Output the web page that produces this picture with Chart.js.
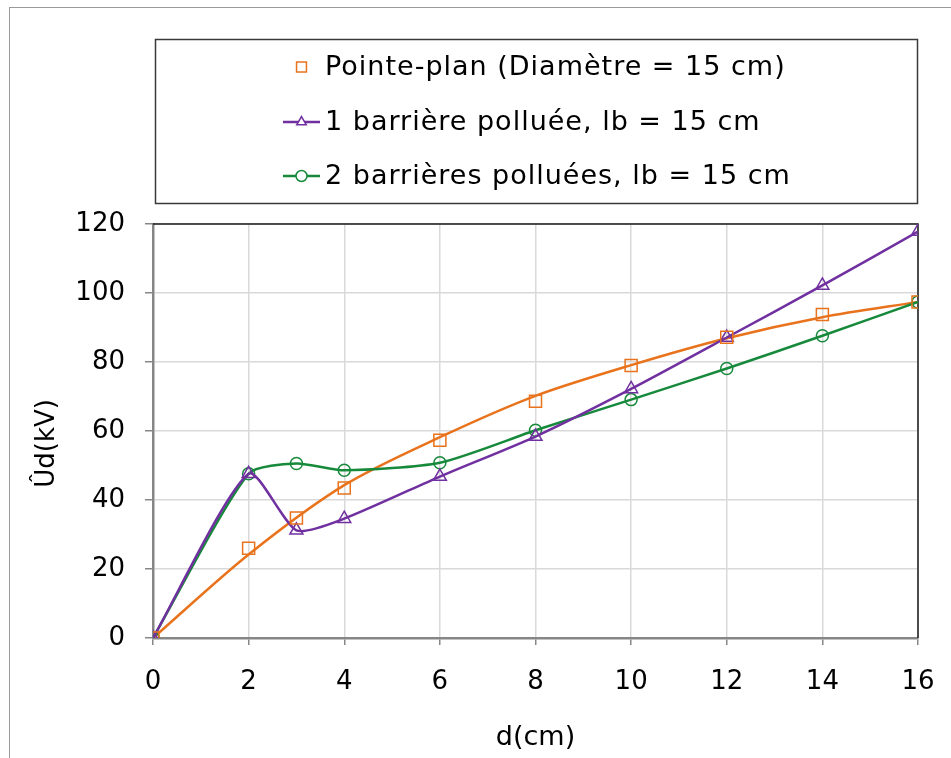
<!DOCTYPE html>
<html>
<head>
<meta charset="utf-8">
<script src="https://cdn.jsdelivr.net/npm/chart.js@4/dist/chart.umd.min.js"></script>
<style>
  html, body { margin: 0; padding: 0; background: #fff; }
  #wrap { position: relative; width: 951px; height: 758px; }
</style>
</head>
<body>
<div id="wrap"><canvas id="chart"></canvas></div>
<script>
// values
const dValues = [0, 2, 3, 4, 6, 8, 10, 12, 14, 16];
const pointePlan = [0, 26, 34.8, 43.5, 57.3, 68.6, 79, 87.2, 93.8, 97.4];
const barriere1 = [0, 47.6, 31.2, 34.6, 46.8, 58.4, 72.2, 87.1, 102.2, 117.8];
const barrieres2 = [0, 47.6, 50.6, 48.6, 50.8, 60.2, 69.1, 78.1, 87.6, 97.4];
// trend curve drawn through the Pointe-plan points
const trendD = [0, 2, 4, 6, 8, 10, 12, 14, 16];
const trendU = [0, 24.2, 44.3, 58.2, 70.2, 79.1, 86.9, 93, 97.4];
const xTicks = [0, 2, 4, 6, 8, 10, 12, 14, 16];
const yTicks = [0, 20, 40, 60, 80, 100, 120];

const labels = [
  'Pointe-plan (Diamètre = 15 cm)',
  '1 barrière polluée, lb = 15 cm',
  '2 barrières polluées, lb = 15 cm'
];

const ORANGE = '#E8731C';
const PURPLE = '#7030A0';
const GREEN = '#17893B';
const FONT = "'DejaVu Sans', Verdana, sans-serif";

const pts = (xs, ys) => xs.map((x, i) => ({ x: x, y: ys[i] }));

// outer frame, plot frame, and boxed legend
const framePlugin = {
  id: 'frame',
  beforeDraw(chart) {
    const c = chart.ctx;
    c.save();
    c.fillStyle = '#fff';
    c.fillRect(0, 0, chart.width, chart.height);
    c.strokeStyle = '#9a9a9a';
    c.lineWidth = 1;
    c.strokeRect(9.5, 7.5, 1000, 1000);
    c.restore();
  },
  beforeDatasetsDraw(chart) {
    const a = chart.chartArea, c = chart.ctx;
    c.save();
    c.strokeStyle = '#1a1a1a';
    c.lineWidth = 1.5;
    c.beginPath();
    c.moveTo(a.left, a.top);
    c.lineTo(a.right, a.top);
    c.lineTo(a.right, a.bottom);
    c.stroke();
    c.restore();
  },
  afterDraw(chart) {
    const c = chart.ctx;
    c.save();
    c.strokeStyle = '#3a3a3a';
    c.lineWidth = 1.5;
    c.strokeRect(155.5, 39.5, 762, 164);
    const rows = [67, 122, 176];
    const x0 = 283, x1 = 320;
    c.font = '27px ' + FONT;
    c.letterSpacing = '1px';
    c.textBaseline = 'middle';
    c.textAlign = 'left';
    for (let i = 0; i < 3; i++) {
      const ds = chart.data.datasets[i];
      const y = rows[i];
      if (ds.showLine !== false) {
        c.strokeStyle = ds.borderColor;
        c.lineWidth = 2.5;
        c.beginPath();
        c.moveTo(x0, y);
        c.lineTo(x1, y);
        c.stroke();
      }
      c.strokeStyle = ds.pointBorderColor;
      c.fillStyle = '#fff';
      c.lineWidth = 1.5;
      Chart.helpers.drawPoint(c, { pointStyle: ds.pointStyle, radius: ds.pointStyle === 'rect' ? 7 : 5.5, borderWidth: 1.5 }, (x0 + x1) / 2, y);
      c.fillStyle = '#000';
      c.fillText(ds.label, 325, y + 1);
    }
    c.letterSpacing = '0px';
    c.restore();
  }
};

new Chart(document.getElementById('chart'), {
  type: 'line',
  data: {
    datasets: [
      {
        label: labels[0],
        data: pts(dValues, pointePlan),
        showLine: false,
        pointStyle: 'rect',
        pointRadius: 8.5,
        pointBorderColor: ORANGE,
        pointBackgroundColor: 'rgba(0,0,0,0)',
        pointBorderWidth: 1.5,
        borderColor: ORANGE
      },
      {
        label: labels[1],
        data: pts(dValues, barriere1),
        borderColor: PURPLE,
        borderWidth: 2.5,
        tension: 0.22,
        pointStyle: 'triangle',
        pointRadius: 7.5,
        pointBorderColor: PURPLE,
        pointBackgroundColor: 'rgba(0,0,0,0)',
        pointBorderWidth: 1.5
      },
      {
        label: labels[2],
        data: pts(dValues, barrieres2),
        borderColor: GREEN,
        borderWidth: 2.5,
        tension: 0.22,
        pointStyle: 'circle',
        pointRadius: 6,
        pointBorderColor: GREEN,
        pointBackgroundColor: 'rgba(0,0,0,0)',
        pointBorderWidth: 1.5
      },
      {
        label: 'trend',
        data: pts(trendD, trendU),
        borderColor: ORANGE,
        borderWidth: 2.5,
        tension: 0.3,
        pointRadius: 0
      }
    ]
  },
  options: {
    responsive: true,
    maintainAspectRatio: false,
    animation: false,
    layout: { padding: { top: 224, right: 33, left: 0, bottom: 0 } },
    plugins: {
      legend: { display: false },
      tooltip: { enabled: false }
    },
    scales: {
      x: {
        type: 'linear',
        min: 0,
        max: 16,
        afterBuildTicks: s => { s.ticks = xTicks.map(v => ({ value: v })); },
        afterFit: s => { s.height = 120; },
        ticks: { color: '#000', font: { family: FONT, size: 26, lineHeight: 2.0 }, padding: 11 },
        grid: { color: '#d9d9d9', lineWidth: 1.5, tickLength: 7, tickColor: '#868686' },
        border: { color: '#868686', width: 2.5 },
        title: { display: true, text: 'd(cm)', color: '#000', font: { family: FONT, size: 27 }, padding: { top: 0, bottom: 4 } }
      },
      y: {
        min: 0,
        max: 120,
        afterBuildTicks: s => { s.ticks = yTicks.map(v => ({ value: v })); },
        afterFit: s => { s.width = 153; },
        ticks: { color: '#000', font: { family: FONT, size: 26 }, padding: 20 },
        grid: { color: '#d9d9d9', lineWidth: 1.5, tickLength: 8, tickColor: '#868686' },
        border: { color: '#868686', width: 2.5 },
        title: { display: true, text: 'Ûd(kV)   ', color: '#000', font: { family: FONT, size: 26 }, padding: { top: 32, bottom: 0 } }
      }
    }
  },
  plugins: [framePlugin]
});
</script>
</body>
</html>
